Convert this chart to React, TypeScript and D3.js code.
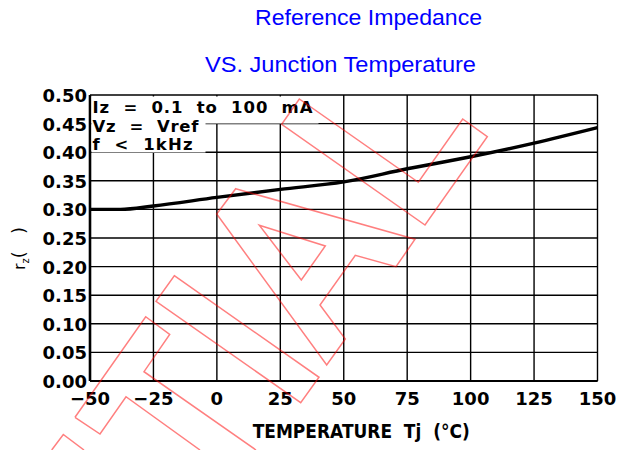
import React from "react";
import * as d3 from "d3";

const temps = [-50, -38, -25, 0, 25, 50, 75, 100, 125, 150];
const rz = [0.3, 0.3, 0.306, 0.321, 0.335, 0.348, 0.371, 0.392, 0.416, 0.443];

const xTicks = [-50, -25, 0, 25, 50, 75, 100, 125, 150];
const xTickLabels = ["\u221250", "\u221225", "0", "25", "50", "75", "100", "125", "150"];
const yTicks = [0, 0.05, 0.1, 0.15, 0.2, 0.25, 0.3, 0.35, 0.4, 0.45, 0.5];

const titleLine1 = "Reference Impedance";
const titleLine2 = "VS. Junction Temperature";
const xTitle = "TEMPERATURE  Tj  (\u00B0C)";
const noteLines = ["Iz  =  0.1  to  100  mA", "Vz  =  Vref", "f  <  1kHz"];

// decorative watermark outlines (pixel space)
const watermark: string[] = [
  "M51.7,450 L63.3,434.5 L84,450",
  "M75,417.3 L145.7,316.7 L169.7,334.3 L144,371.7 L256,450 M200,450 L126,396.7 L100,434 L75,417.3",
  "M174.3,275.7 L319,377.3 L300.7,402.7 L156,301.3 Z",
  "M235.7,188.7 L415,239.3 L396,266.7 L355.3,255.3 L320,305 L345.3,339 L326.7,365 L216.7,214 Z M259.3,225.3 L325.3,246 L301.3,280 Z",
  "M281.7,124.3 L299.3,99 L418.3,182.3 L462.7,119 L487.3,136.7 L425,225 Z",
];

export default function App() {
  const W = 631;
  const H = 450;
  const x = d3.scaleLinear().domain([-50, 150]).range([90, 597.5]);
  const y = d3.scaleLinear().domain([0, 0.5]).range([381, 95]);
  const line = d3
    .line<number>()
    .x((_, i) => x(temps[i]))
    .y((d) => y(d))
    .curve(d3.curveMonotoneX);
  const tickFont = "'DejaVu Sans', sans-serif";
  return (
    <svg
      width={W}
      height={H}
      style={{ position: "absolute", left: 0, top: 0, background: "#fff" }}
    >
      <text x={255} y={25} fontFamily="'Liberation Sans', Arial, sans-serif" fontSize={22.5} fill="#0000ff"
        textLength={227} lengthAdjust="spacingAndGlyphs">
        {titleLine1}
      </text>
      <text x={205} y={71.5} fontFamily="'Liberation Sans', Arial, sans-serif" fontSize={22.5} fill="#0000ff"
        textLength={271} lengthAdjust="spacingAndGlyphs">
        {titleLine2}
      </text>

      {/* grid */}
      {xTicks.map((t) => (
        <line key={"gx" + t} x1={x(t)} x2={x(t)} y1={y(0)} y2={y(0.5)} stroke="#000" strokeWidth={1.4} />
      ))}
      {yTicks.map((t) => (
        <line key={"gy" + t} x1={x(-50)} x2={x(150)} y1={y(t)} y2={y(t)} stroke="#000" strokeWidth={1.4} />
      ))}
      <line x1={x(-50)} x2={x(-50)} y1={y(0)} y2={y(0.5)} stroke="#000" strokeWidth={2.6} />
      <line x1={x(-50)} x2={x(150)} y1={y(0)} y2={y(0)} stroke="#000" strokeWidth={2} />

      {/* note boxes */}
      <rect x={91.5} y={96.5} width={227} height={27} fill="#fff" />
      <rect x={91.5} y={123} width={114} height={29.5} fill="#fff" />
      {noteLines.map((s, i) => (
        <text
          key={s}
          x={92.5}
          y={113.3 + i * 18.5}
          fontFamily={tickFont}
          fontWeight="bold"
          fontSize={16.5}
          style={{ whiteSpace: "pre" }}
          textLength={[220, 106, 100][i]}
          lengthAdjust="spacing"
        >
          {s}
        </text>
      ))}

      {/* curve */}
      <path d={line(rz) || ""} fill="none" stroke="#000" strokeWidth={3.4} />

      {/* y tick labels */}
      {yTicks.map((t) => (
        <text
          key={"yl" + t}
          x={87}
          y={y(t) + 7}
          textAnchor="end"
          fontFamily={tickFont}
          fontWeight="bold"
          fontSize={18}
        >
          {t.toFixed(2)}
        </text>
      ))}
      {/* x tick labels */}
      {xTicks.map((t, i) => (
        <text
          key={"xl" + t}
          x={x(t)}
          y={405}
          textAnchor="middle"
          fontFamily={tickFont}
          fontWeight="bold"
          fontSize={18}
        >
          {xTickLabels[i]}
        </text>
      ))}

      <text
        x={252.7}
        y={438.3}
        fontFamily={tickFont}
        fontWeight="bold"
        fontSize={20}
        textLength={217}
        lengthAdjust="spacingAndGlyphs"
        style={{ whiteSpace: "pre" }}
      >
        {xTitle}
      </text>

      <text
        transform="translate(25,270) rotate(-90)"
        fontFamily={tickFont}
        fontSize={16}
        style={{ whiteSpace: "pre" }}
      >
        r
        <tspan dy={4} fontSize={10}>z</tspan>
        <tspan dy={-4} fontSize={18}>(   )</tspan>
      </text>

      {/* watermark */}
      {watermark.map((d, i) => (
        <path key={"wm" + i} d={d} fill="none" stroke="#ff0000" strokeOpacity={0.5} strokeWidth={1.5} />
      ))}
    </svg>
  );
}
